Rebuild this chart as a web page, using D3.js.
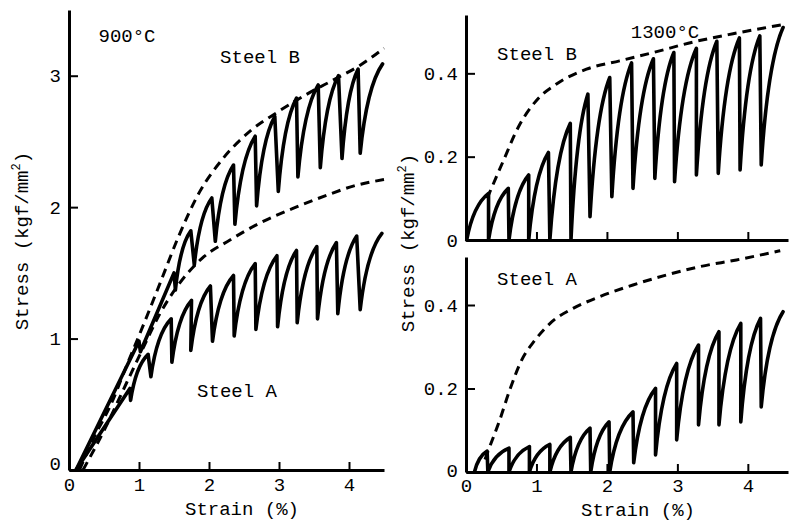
<!DOCTYPE html>
<html>
<head>
<meta charset="utf-8">
<script src="https://cdn.jsdelivr.net/npm/d3@7"></script>
<style>
  html, body { margin: 0; padding: 0; background: #fff; }
  svg { display: block; }
</style>
</head>
<body>
<svg id="chart" width="793" height="522"></svg>
<script>
// ---------------- DATA ----------------
const strainTicks = [0, 1, 2, 3, 4];
const strainTickLabels = ["0", "1", "2", "3", "4"];
const stressTicks900 = [0, 1, 2, 3];
const stressTickLabels900 = ["0", "1", "2", "3"];
const stressTicks1300 = [0, 0.2, 0.4];
const stressTickLabels1300 = ["0", "0.2", "0.4"];

// 900°C, Steel B (serrated, solid): start, peaks, troughs (strain %, stress kgf/mm2)
const steelB900Start = [0.1, 0];
const steelB900Peaks = [[1.0, 0.98], [1.5, 1.50], [1.74, 1.82], [2.04, 2.07], [2.35, 2.32], [2.66, 2.54],
  [2.94, 2.69], [3.25, 2.83], [3.56, 2.93], [3.85, 3.00], [4.13, 3.05], [4.48, 3.09]];
const steelB900Troughs = [[1.02, 0.90], [1.52, 1.37], [1.79, 1.56], [2.09, 1.74], [2.37, 1.87], [2.68, 2.01],
  [2.99, 2.12], [3.27, 2.23], [3.59, 2.30], [3.90, 2.37], [4.16, 2.41]];
// 900°C, Steel A
const steelA900Start = [0.1, 0];
const steelA900Peaks = [[0.87, 0.62], [1.13, 0.88], [1.46, 1.15], [1.75, 1.29], [2.02, 1.40], [2.35, 1.48],
  [2.66, 1.57], [2.97, 1.63], [3.25, 1.67], [3.54, 1.70], [3.82, 1.73], [4.11, 1.78], [4.47, 1.80]];
const steelA900Troughs = [[0.88, 0.53], [1.17, 0.71], [1.47, 0.82], [1.74, 0.91], [2.05, 0.98], [2.36, 1.02],
  [2.67, 1.07], [2.98, 1.09], [3.26, 1.12], [3.55, 1.15], [3.84, 1.19], [4.16, 1.22]];
// 900°C dashed envelopes
const steelB900Dashed = [[0.15, 0], [0.35, 0.24], [0.6, 0.5], [0.82, 0.79], [1.06, 1.10], [1.3, 1.42],
  [1.56, 1.77], [1.87, 2.12], [2.2, 2.37], [2.59, 2.58], [2.97, 2.72], [3.4, 2.86], [3.82, 2.98],
  [4.16, 3.08], [4.5, 3.21]];
const steelA900Dashed = [[0.2, 0], [0.5, 0.3], [0.82, 0.66], [1.06, 0.93], [1.3, 1.19], [1.55, 1.40],
  [1.9, 1.61], [2.3, 1.75], [2.73, 1.88], [3.2, 1.99], [3.68, 2.09], [4.06, 2.16], [4.5, 2.21]];

// 1300°C, Steel B
const steelB1300Start = [0.01, 0];
const steelB1300Peaks = [[0.32, 0.112], [0.6, 0.124], [0.89, 0.156], [1.17, 0.21], [1.48, 0.28], [1.73, 0.35],
  [2.04, 0.39], [2.35, 0.425], [2.66, 0.435], [2.95, 0.45], [3.27, 0.46], [3.56, 0.477], [3.88, 0.485],
  [4.17, 0.49], [4.5, 0.51]];
const steelB1300Troughs = [[0.32, 0], [0.61, 0], [0.89, 0], [1.19, 0], [1.49, 0], [1.76, 0.056], [2.07, 0.104],
  [2.37, 0.124], [2.68, 0.148], [2.96, 0.14], [3.27, 0.156], [3.58, 0.16], [3.89, 0.168], [4.19, 0.18]];
const steelB1300Dashed = [[0.3, 0.1], [0.53, 0.19], [0.74, 0.27], [1.0, 0.335], [1.29, 0.375], [1.71, 0.41],
  [2.18, 0.43], [2.66, 0.45], [3.22, 0.475], [3.79, 0.495], [4.47, 0.516]];

// 1300°C, Steel A
const steelA1300Start = [0.12, 0];
const steelA1300Peaks = [[0.3, 0.05], [0.61, 0.057], [0.9, 0.061], [1.19, 0.066], [1.48, 0.083], [1.76, 0.105],
  [2.03, 0.12], [2.37, 0.144], [2.69, 0.2], [2.99, 0.26], [3.3, 0.304], [3.59, 0.336], [3.9, 0.356],
  [4.18, 0.368], [4.5, 0.384]];
const steelA1300Troughs = [[0.31, 0], [0.61, 0], [0.9, 0], [1.19, 0], [1.49, 0], [1.77, 0], [2.04, 0],
  [2.38, 0.022], [2.69, 0.041], [2.99, 0.077], [3.3, 0.113], [3.59, 0.113], [3.9, 0.12], [4.19, 0.156]];
const steelA1300Dashed = [[0.27, 0.03], [0.32, 0.053], [0.48, 0.125], [0.62, 0.196], [0.79, 0.268],
  [0.98, 0.316], [1.22, 0.36], [1.52, 0.392], [1.9, 0.42], [2.37, 0.448], [2.85, 0.472], [3.32, 0.492],
  [3.84, 0.508], [4.46, 0.53]];

// ---------------- DRAWING ----------------
const FONT = "'Liberation Mono', 'DejaVu Sans Mono', monospace";
const svg = d3.select("#chart");
svg.append("rect").attr("width", 793).attr("height", 522).attr("fill", "#fff");

const xL = d3.scaleLinear().domain([0, 4.5]).range([69, 384]);
const yL = d3.scaleLinear().domain([0, 3.5]).range([470, 10]);
const xR = d3.scaleLinear().domain([0, 4.57]).range([466, 788]);
const yRT = d3.scaleLinear().domain([0, 0.54]).range([240, 15]);
const yRB = d3.scaleLinear().domain([0, 0.515]).range([472, 257]);

function styleAxis(g) {
  g.attr("font-family", FONT).attr("font-size", 19);
  g.select(".domain").attr("stroke", "#000").attr("stroke-width", 3);
  g.selectAll(".tick line").attr("stroke", "#000").attr("stroke-width", 2);
  g.selectAll(".tick text").attr("fill", "#000");
}

function drawAxes(x, y, yTicks, yLabels, xLabelsShown, pad) {
  const gx = svg.append("g").attr("transform", `translate(0,${y(0)})`)
    .call(d3.axisBottom(x).tickValues(strainTicks)
      .tickFormat((d, i) => xLabelsShown ? strainTickLabels[i] : "")
      .tickSizeInner(-8).tickSizeOuter(0).tickPadding(pad));
  styleAxis(gx);
  const gy = svg.append("g").attr("transform", `translate(${x(0)},0)`)
    .call(d3.axisLeft(y).tickValues(yTicks)
      .tickFormat((d, i) => yLabels[i])
      .tickSizeInner(-9).tickSizeOuter(0).tickPadding(8));
  styleAxis(gy);
  return gy;
}

const gyL = drawAxes(xL, yL, stressTicks900, stressTickLabels900, true, 8);
gyL.selectAll(".tick text").filter(d => d === 0).attr("dy", "-0.05em");
drawAxes(xR, yRT, stressTicks1300, stressTickLabels1300, false, 7);
const gyRB = drawAxes(xR, yRB, stressTicks1300, stressTickLabels1300, true, 7);
gyRB.selectAll(".tick text").filter(d => d === 0).attr("dy", "0.22em");

// serrated curve: rising concave arcs to each peak, near-vertical drops to each trough
function serrated(x, y, start, peaks, troughs) {
  const p = d3.path();
  let x0 = x(start[0]), y0 = y(start[1]);
  p.moveTo(x0, y0);
  peaks.forEach((pk, i) => {
    const x1 = x(pk[0]), y1 = y(pk[1]);
    if (pk[0] - (i === 0 ? start[0] : troughs[i - 1][0]) > 0.4) {
      p.lineTo(x1, y1);
    } else {
      p.quadraticCurveTo(x0 + 0.3 * (x1 - x0), y0 + 0.75 * (y1 - y0), x1, y1);
    }
    if (i < troughs.length) {
      x0 = x(troughs[i][0]); y0 = y(troughs[i][1]);
      p.lineTo(x0, y0);
    }
  });
  return p.toString();
}

function solid(x, y, start, peaks, troughs) {
  svg.append("path").attr("d", serrated(x, y, start, peaks, troughs))
    .attr("fill", "none").attr("stroke", "#000").attr("stroke-width", 3.6)
    .attr("stroke-linejoin", "round").attr("stroke-linecap", "round");
}
function dashed(x, y, pts) {
  const line = d3.line().x(d => x(d[0])).y(d => y(d[1])).curve(d3.curveMonotoneX);
  svg.append("path").attr("d", line(pts))
    .attr("fill", "none").attr("stroke", "#000").attr("stroke-width", 3)
    .attr("stroke-dasharray", "9,6");
}

dashed(xL, yL, steelB900Dashed);
dashed(xL, yL, steelA900Dashed);
solid(xL, yL, steelB900Start, steelB900Peaks, steelB900Troughs);
solid(xL, yL, steelA900Start, steelA900Peaks, steelA900Troughs);

dashed(xR, yRT, steelB1300Dashed);
solid(xR, yRT, steelB1300Start, steelB1300Peaks, steelB1300Troughs);

dashed(xR, yRB, steelA1300Dashed);
solid(xR, yRB, steelA1300Start, steelA1300Peaks, steelA1300Troughs);

// ---------------- TEXT ----------------
function label(txt, cx, by, anchor) {
  svg.append("text").attr("x", cx).attr("y", by)
    .attr("text-anchor", anchor || "middle")
    .attr("font-family", FONT).attr("font-size", 19).attr("fill", "#000")
    .text(txt);
}
label("900°C", 127, 42);
label("Steel B", 260, 63);
label("Steel A", 237, 397);
label("1300°C", 665, 38);
label("Steel B", 537, 60);
label("Steel A", 537, 285);
label("Strain (%)", 242, 515);
label("Strain (%)", 638, 516);

function yTitle(tx, ty) {
  const t = svg.append("text")
    .attr("transform", `translate(${tx},${ty}) rotate(-90)`)
    .attr("text-anchor", "middle")
    .attr("font-family", FONT).attr("font-size", 19).attr("fill", "#000");
  t.append("tspan").text("Stress (kgf/mm");
  t.append("tspan").attr("font-size", 12).attr("dy", -8).text("2");
  t.append("tspan").attr("dy", 8).text(")");
}
yTitle(28, 241);
yTitle(414, 243);
</script>
</body>
</html>
